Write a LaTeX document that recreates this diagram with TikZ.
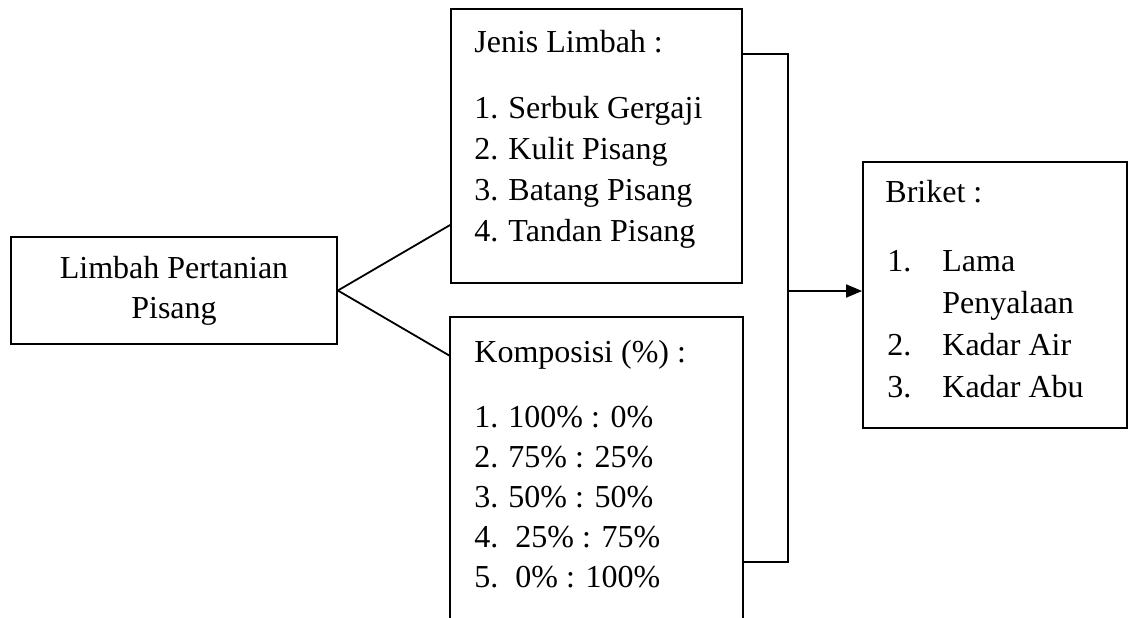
\documentclass[tikz,border=0pt]{standalone}
\usepackage{fontspec}
\setmainfont{Liberation Serif}
\usepackage{tikz}
\usetikzlibrary{positioning, calc, arrows.meta}

\tikzset{
  kotak/.style={draw, line width=0.9pt, rectangle, inner sep=0pt},
  teks/.style={anchor=base west, inner sep=0pt},
  garis/.style={line width=0.9pt},
}

\begin{document}
\begin{tikzpicture}[x=0.5pt, y=-0.5pt, font=\fontsize{16}{20}\selectfont]
			\useasboundingbox (0,0) rectangle (1129,617);
			
			% kotak
			\node[kotak, minimum width=163pt, minimum height=53.5pt, align=center] (limbah) at (174,290.5) {Limbah Pertanian\\Pisang};
			\node[kotak, minimum width=145.5pt, minimum height=137pt] (jenis) at (596.5,146) {};
			\node[kotak, draw=none, minimum width=145.5pt, minimum height=149.5pt] (komp) at (596.5,467.5) {};
			\node[kotak, minimum width=132pt, minimum height=133pt] (briket) at (995,295) {};
			\draw[garis] (komp.south west) -- (komp.north west) -- (komp.north east) -- (komp.south east);
			
			% isi kotak jenis
			\node[teks] (jenis-judul) at (474,52) {Jenis Limbah :};
			\foreach \t [count=\i] in {Serbuk Gergaji, Kulit Pisang, Batang Pisang, Tandan Pisang}
			{
			\node[teks] (jenis-no\i) at (474,77+41*\i) {\i.};
			\node[teks] (jenis-isi\i) at (508,77+41*\i) {\t};
			}
			
			% isi kotak komposisi
			\node[teks] (komp-judul) at (474,362) {Komposisi (\%) :};
			\foreach \t/\dx [count=\i] in {{100\% : 0\%}/0, {75\% : 25\%}/0, {50\% : 50\%}/0, {25\% : 75\%}/7, {0\% : 100\%}/7}
			{
			\node[teks] (komp-no\i) at (474,387+40*\i) {\i.};
			\node[teks] (komp-isi\i) at (508+\dx,387+40*\i) {\t};
			}
			
			% isi kotak briket
			\node[teks] (briket-judul) at (885,202) {Briket :};
			\node[teks] (briket-no1) at (887,271) {1.};
			\node[teks] (briket-isi1) at (942,271) {Lama};
			\node[teks] (briket-isi1b) at (942,313) {Penyalaan};
			\node[teks] (briket-no2) at (887,355) {2.};
			\node[teks] (briket-isi2) at (942,355) {Kadar Air};
			\node[teks] (briket-no3) at (887,397) {3.};
			\node[teks] (briket-isi3) at (942,397) {Kadar Abu};
			
			% garis penghubung
			\coordinate (simpang) at (788,291);
			\draw[garis] (limbah.east) -- (jenis.west |- 0,225);
			\draw[garis] (limbah.east) -- (komp.west |- 0,356);
			\draw[garis] (jenis.east |- 0,54) -| (simpang) |- (komp.east |- 0,562);
			\draw[garis, -{Triangle[length=8pt, width=6.5pt]}] (simpang) -- (simpang -| briket.west);
			
			\end{tikzpicture}
\end{document}
